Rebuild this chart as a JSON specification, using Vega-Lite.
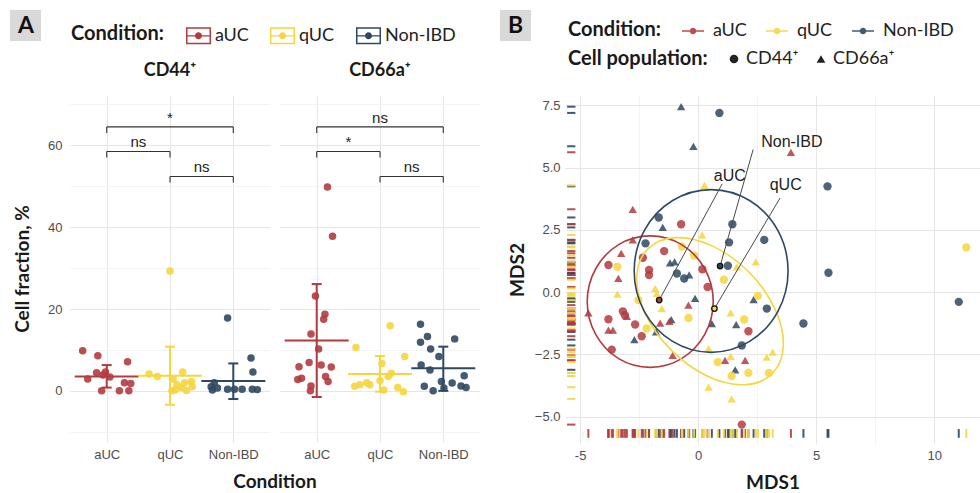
{
  "$schema": "https://vega.github.io/schema/vega-lite/v6.json",
  "padding": {"left": 10, "top": 10, "right": 0, "bottom": 2},
  "config": {
    "view": {"stroke": null},
    "axis": {"domain": false, "ticks": false, "labelFont": "Liberation Sans", "labelFontSize": 13, "labelColor": "#4d4d4d", "titleFont": "Lato", "titleFontSize": 19, "titleFontWeight": "bold", "titleColor": "#1a1a1a", "gridColor": "#ebebeb"},
    "legend": {"labelFont": "Lato", "labelFontSize": 18, "labelColor": "#222222", "titleFont": "Lato", "titleFontSize": 20, "titleFontWeight": "bold", "titleColor": "#1a1a1a", "padding": 0}
  },
  "datasets": {
    "A": [
      {"k": "pt", "pop": "CD44⁺", "cond": "aUC", "x": 0.62, "y": 9.8},
      {"k": "pt", "pop": "CD44⁺", "cond": "aUC", "x": 0.86, "y": 8.6},
      {"k": "pt", "pop": "CD44⁺", "cond": "aUC", "x": 1.33, "y": 7.1},
      {"k": "pt", "pop": "CD44⁺", "cond": "aUC", "x": 0.70, "y": 2.9},
      {"k": "pt", "pop": "CD44⁺", "cond": "aUC", "x": 0.84, "y": 4.4},
      {"k": "pt", "pop": "CD44⁺", "cond": "aUC", "x": 0.94, "y": 3.9},
      {"k": "pt", "pop": "CD44⁺", "cond": "aUC", "x": 0.98, "y": 4.6},
      {"k": "pt", "pop": "CD44⁺", "cond": "aUC", "x": 1.05, "y": 3.4},
      {"k": "pt", "pop": "CD44⁺", "cond": "aUC", "x": 0.92, "y": 0.0},
      {"k": "pt", "pop": "CD44⁺", "cond": "aUC", "x": 1.20, "y": 0.0},
      {"k": "pt", "pop": "CD44⁺", "cond": "aUC", "x": 1.35, "y": 0.0},
      {"k": "pt", "pop": "CD44⁺", "cond": "aUC", "x": 1.28, "y": 2.0},
      {"k": "pt", "pop": "CD44⁺", "cond": "aUC", "x": 1.38, "y": 1.8},
      {"k": "pt", "pop": "CD44⁺", "cond": "qUC", "x": 2.0, "y": 29.3},
      {"k": "pt", "pop": "CD44⁺", "cond": "qUC", "x": 1.67, "y": 4.1},
      {"k": "pt", "pop": "CD44⁺", "cond": "qUC", "x": 1.80, "y": 3.5},
      {"k": "pt", "pop": "CD44⁺", "cond": "qUC", "x": 2.20, "y": 4.6},
      {"k": "pt", "pop": "CD44⁺", "cond": "qUC", "x": 2.05, "y": 2.9},
      {"k": "pt", "pop": "CD44⁺", "cond": "qUC", "x": 2.11, "y": 1.5},
      {"k": "pt", "pop": "CD44⁺", "cond": "qUC", "x": 2.18, "y": 0.8},
      {"k": "pt", "pop": "CD44⁺", "cond": "qUC", "x": 2.08, "y": 0.2},
      {"k": "pt", "pop": "CD44⁺", "cond": "qUC", "x": 2.23, "y": 2.0},
      {"k": "pt", "pop": "CD44⁺", "cond": "qUC", "x": 2.34, "y": 2.3},
      {"k": "pt", "pop": "CD44⁺", "cond": "qUC", "x": 2.35, "y": 1.0},
      {"k": "pt", "pop": "CD44⁺", "cond": "qUC", "x": 2.03, "y": 0.0},
      {"k": "pt", "pop": "CD44⁺", "cond": "qUC", "x": 2.26, "y": 0.1},
      {"k": "pt", "pop": "CD44⁺", "cond": "Non-IBD", "x": 2.91, "y": 17.8},
      {"k": "pt", "pop": "CD44⁺", "cond": "Non-IBD", "x": 3.28, "y": 8.0},
      {"k": "pt", "pop": "CD44⁺", "cond": "Non-IBD", "x": 3.31, "y": 4.6},
      {"k": "pt", "pop": "CD44⁺", "cond": "Non-IBD", "x": 2.65, "y": 1.0},
      {"k": "pt", "pop": "CD44⁺", "cond": "Non-IBD", "x": 2.70, "y": 2.0},
      {"k": "pt", "pop": "CD44⁺", "cond": "Non-IBD", "x": 2.75, "y": 0.7},
      {"k": "pt", "pop": "CD44⁺", "cond": "Non-IBD", "x": 2.91, "y": 0.4},
      {"k": "pt", "pop": "CD44⁺", "cond": "Non-IBD", "x": 3.02, "y": 0.4},
      {"k": "pt", "pop": "CD44⁺", "cond": "Non-IBD", "x": 3.14, "y": 0.4},
      {"k": "pt", "pop": "CD44⁺", "cond": "Non-IBD", "x": 3.30, "y": 0.4},
      {"k": "pt", "pop": "CD44⁺", "cond": "Non-IBD", "x": 3.38, "y": 0.3},
      {"k": "pt", "pop": "CD44⁺", "cond": "Non-IBD", "x": 2.67, "y": 0.2},
      {"k": "pt", "pop": "CD66a⁺", "cond": "aUC", "x": 1.17, "y": 49.8},
      {"k": "pt", "pop": "CD66a⁺", "cond": "aUC", "x": 1.25, "y": 37.8},
      {"k": "pt", "pop": "CD66a⁺", "cond": "aUC", "x": 0.98, "y": 23.2},
      {"k": "pt", "pop": "CD66a⁺", "cond": "aUC", "x": 1.13, "y": 18.7},
      {"k": "pt", "pop": "CD66a⁺", "cond": "aUC", "x": 1.11, "y": 17.5},
      {"k": "pt", "pop": "CD66a⁺", "cond": "aUC", "x": 0.91, "y": 13.9},
      {"k": "pt", "pop": "CD66a⁺", "cond": "aUC", "x": 1.03, "y": 10.2},
      {"k": "pt", "pop": "CD66a⁺", "cond": "aUC", "x": 0.88, "y": 6.9},
      {"k": "pt", "pop": "CD66a⁺", "cond": "aUC", "x": 0.72, "y": 5.9},
      {"k": "pt", "pop": "CD66a⁺", "cond": "aUC", "x": 1.07, "y": 6.3},
      {"k": "pt", "pop": "CD66a⁺", "cond": "aUC", "x": 1.23, "y": 5.8},
      {"k": "pt", "pop": "CD66a⁺", "cond": "aUC", "x": 0.76, "y": 3.1},
      {"k": "pt", "pop": "CD66a⁺", "cond": "aUC", "x": 0.70, "y": 2.8},
      {"k": "pt", "pop": "CD66a⁺", "cond": "aUC", "x": 1.14, "y": 3.5},
      {"k": "pt", "pop": "CD66a⁺", "cond": "aUC", "x": 1.18, "y": 2.3},
      {"k": "pt", "pop": "CD66a⁺", "cond": "aUC", "x": 0.91, "y": 1.2},
      {"k": "pt", "pop": "CD66a⁺", "cond": "aUC", "x": 0.90, "y": 0.0},
      {"k": "pt", "pop": "CD66a⁺", "cond": "qUC", "x": 2.16, "y": 15.9},
      {"k": "pt", "pop": "CD66a⁺", "cond": "qUC", "x": 1.62, "y": 10.6},
      {"k": "pt", "pop": "CD66a⁺", "cond": "qUC", "x": 2.39, "y": 8.4},
      {"k": "pt", "pop": "CD66a⁺", "cond": "qUC", "x": 2.03, "y": 6.7},
      {"k": "pt", "pop": "CD66a⁺", "cond": "qUC", "x": 2.18, "y": 4.3},
      {"k": "pt", "pop": "CD66a⁺", "cond": "qUC", "x": 2.13, "y": 3.5},
      {"k": "pt", "pop": "CD66a⁺", "cond": "qUC", "x": 1.60, "y": 1.1},
      {"k": "pt", "pop": "CD66a⁺", "cond": "qUC", "x": 1.68, "y": 1.5},
      {"k": "pt", "pop": "CD66a⁺", "cond": "qUC", "x": 1.79, "y": 2.0},
      {"k": "pt", "pop": "CD66a⁺", "cond": "qUC", "x": 1.84, "y": 1.5},
      {"k": "pt", "pop": "CD66a⁺", "cond": "qUC", "x": 2.0, "y": 2.5},
      {"k": "pt", "pop": "CD66a⁺", "cond": "qUC", "x": 2.06, "y": 0.2},
      {"k": "pt", "pop": "CD66a⁺", "cond": "qUC", "x": 2.28, "y": 0.8},
      {"k": "pt", "pop": "CD66a⁺", "cond": "qUC", "x": 2.37, "y": -0.2},
      {"k": "pt", "pop": "CD66a⁺", "cond": "Non-IBD", "x": 2.64, "y": 16.3},
      {"k": "pt", "pop": "CD66a⁺", "cond": "Non-IBD", "x": 2.75, "y": 13.3},
      {"k": "pt", "pop": "CD66a⁺", "cond": "Non-IBD", "x": 3.18, "y": 12.7},
      {"k": "pt", "pop": "CD66a⁺", "cond": "Non-IBD", "x": 2.64, "y": 11.9},
      {"k": "pt", "pop": "CD66a⁺", "cond": "Non-IBD", "x": 2.80, "y": 10.2},
      {"k": "pt", "pop": "CD66a⁺", "cond": "Non-IBD", "x": 2.93, "y": 8.4},
      {"k": "pt", "pop": "CD66a⁺", "cond": "Non-IBD", "x": 2.65, "y": 6.3},
      {"k": "pt", "pop": "CD66a⁺", "cond": "Non-IBD", "x": 2.79, "y": 5.1},
      {"k": "pt", "pop": "CD66a⁺", "cond": "Non-IBD", "x": 2.97, "y": 2.3},
      {"k": "pt", "pop": "CD66a⁺", "cond": "Non-IBD", "x": 3.14, "y": 1.9},
      {"k": "pt", "pop": "CD66a⁺", "cond": "Non-IBD", "x": 3.33, "y": 3.7},
      {"k": "pt", "pop": "CD66a⁺", "cond": "Non-IBD", "x": 2.70, "y": 1.1},
      {"k": "pt", "pop": "CD66a⁺", "cond": "Non-IBD", "x": 2.84, "y": 0.0},
      {"k": "pt", "pop": "CD66a⁺", "cond": "Non-IBD", "x": 3.01, "y": 0.7},
      {"k": "pt", "pop": "CD66a⁺", "cond": "Non-IBD", "x": 3.28, "y": 1.2},
      {"k": "pt", "pop": "CD66a⁺", "cond": "Non-IBD", "x": 3.36, "y": 0.8},
      {"k": "st", "pop": "CD44⁺", "cond": "aUC", "x": 1, "m": 3.5, "lo": 0.8, "hi": 6.3},
      {"k": "st", "pop": "CD44⁺", "cond": "qUC", "x": 2, "m": 3.7, "lo": -3.4, "hi": 10.8},
      {"k": "st", "pop": "CD44⁺", "cond": "Non-IBD", "x": 3, "m": 2.4, "lo": -2.0, "hi": 6.7},
      {"k": "st", "pop": "CD66a⁺", "cond": "aUC", "x": 1, "m": 12.3, "lo": -1.5, "hi": 26.1},
      {"k": "st", "pop": "CD66a⁺", "cond": "qUC", "x": 2, "m": 4.1, "lo": -0.2, "hi": 8.5},
      {"k": "st", "pop": "CD66a⁺", "cond": "Non-IBD", "x": 3, "m": 5.5, "lo": 0.0, "hi": 10.8},
      {"k": "br", "pop": "CD44⁺", "x": 1, "xe": 3, "xm": 2, "y": 64.5, "yt": 63.0, "lab": "*"},
      {"k": "br", "pop": "CD44⁺", "x": 1, "xe": 2, "xm": 1.5, "y": 58.5, "yt": 57.0, "lab": "ns"},
      {"k": "br", "pop": "CD44⁺", "x": 2, "xe": 3, "xm": 2.5, "y": 52.4, "yt": 50.9, "lab": "ns"},
      {"k": "br", "pop": "CD66a⁺", "x": 1, "xe": 3, "xm": 2, "y": 64.5, "yt": 63.0, "lab": "ns"},
      {"k": "br", "pop": "CD66a⁺", "x": 1, "xe": 2, "xm": 1.5, "y": 58.5, "yt": 57.0, "lab": "*"},
      {"k": "br", "pop": "CD66a⁺", "x": 2, "xe": 3, "xm": 2.5, "y": 52.4, "yt": 50.9, "lab": "ns"},
      {"k": "lab", "pop": "CD44⁺", "lab": "A"}
    ],
    "P": [
      {"cond": "Non-IBD", "pop": "CD66a⁺", "x": -0.72, "y": 7.45},
      {"cond": "Non-IBD", "pop": "CD44⁺", "x": 0.90, "y": 7.20},
      {"cond": "Non-IBD", "pop": "CD66a⁺", "x": -0.20, "y": 5.86},
      {"cond": "Non-IBD", "pop": "CD44⁺", "x": -1.67, "y": 3.00},
      {"cond": "Non-IBD", "pop": "CD66a⁺", "x": -1.50, "y": 2.60},
      {"cond": "Non-IBD", "pop": "CD44⁺", "x": 1.45, "y": 2.73},
      {"cond": "Non-IBD", "pop": "CD44⁺", "x": -2.23, "y": 1.96},
      {"cond": "Non-IBD", "pop": "CD44⁺", "x": 1.31, "y": 2.00},
      {"cond": "Non-IBD", "pop": "CD66a⁺", "x": -1.19, "y": 1.18},
      {"cond": "Non-IBD", "pop": "CD66a⁺", "x": -1.00, "y": 1.22},
      {"cond": "Non-IBD", "pop": "CD44⁺", "x": -0.90, "y": 0.75},
      {"cond": "Non-IBD", "pop": "CD44⁺", "x": -0.59, "y": 0.55},
      {"cond": "Non-IBD", "pop": "CD66a⁺", "x": -0.38, "y": 0.69},
      {"cond": "Non-IBD", "pop": "CD44⁺", "x": 1.26, "y": 1.06},
      {"cond": "Non-IBD", "pop": "CD44⁺", "x": 2.80, "y": 2.10},
      {"cond": "Non-IBD", "pop": "CD44⁺", "x": 5.48, "y": 4.25},
      {"cond": "Non-IBD", "pop": "CD44⁺", "x": 5.52, "y": 0.78},
      {"cond": "Non-IBD", "pop": "CD44⁺", "x": 11.04, "y": -0.39},
      {"cond": "Non-IBD", "pop": "CD66a⁺", "x": 2.35, "y": -0.30},
      {"cond": "Non-IBD", "pop": "CD44⁺", "x": 2.91, "y": -0.66},
      {"cond": "Non-IBD", "pop": "CD44⁺", "x": 4.46, "y": -1.26},
      {"cond": "Non-IBD", "pop": "CD44⁺", "x": 1.85, "y": -2.14},
      {"cond": "Non-IBD", "pop": "CD66a⁺", "x": -0.13, "y": -0.25},
      {"cond": "Non-IBD", "pop": "CD66a⁺", "x": 0.58, "y": -1.26},
      {"cond": "Non-IBD", "pop": "CD66a⁺", "x": 1.61, "y": -1.30},
      {"cond": "Non-IBD", "pop": "CD66a⁺", "x": -2.70, "y": -1.91},
      {"cond": "Non-IBD", "pop": "CD66a⁺", "x": -1.78, "y": -1.60},
      {"cond": "Non-IBD", "pop": "CD66a⁺", "x": -1.14, "y": -1.10},
      {"cond": "Non-IBD", "pop": "CD66a⁺", "x": 1.57, "y": -3.12},
      {"cond": "aUC", "pop": "CD66a⁺", "x": 3.93, "y": 5.62},
      {"cond": "aUC", "pop": "CD66a⁺", "x": -2.77, "y": 3.33},
      {"cond": "aUC", "pop": "CD44⁺", "x": -0.72, "y": 2.73},
      {"cond": "aUC", "pop": "CD66a⁺", "x": -2.77, "y": 2.10},
      {"cond": "aUC", "pop": "CD44⁺", "x": -1.44, "y": 1.65},
      {"cond": "aUC", "pop": "CD66a⁺", "x": -3.26, "y": 1.56},
      {"cond": "aUC", "pop": "CD44⁺", "x": -2.34, "y": 1.38},
      {"cond": "aUC", "pop": "CD44⁺", "x": -3.80, "y": 1.09},
      {"cond": "aUC", "pop": "CD44⁺", "x": -2.08, "y": 0.89},
      {"cond": "aUC", "pop": "CD44⁺", "x": -2.08, "y": 0.69},
      {"cond": "aUC", "pop": "CD66a⁺", "x": -3.38, "y": 0.55},
      {"cond": "aUC", "pop": "CD44⁺", "x": 0.18, "y": 0.92},
      {"cond": "aUC", "pop": "CD44⁺", "x": 0.40, "y": 0.21},
      {"cond": "aUC", "pop": "CD66a⁺", "x": -4.65, "y": -0.83},
      {"cond": "aUC", "pop": "CD44⁺", "x": -3.19, "y": -0.77},
      {"cond": "aUC", "pop": "CD44⁺", "x": -3.10, "y": -0.93},
      {"cond": "aUC", "pop": "CD66a⁺", "x": -3.02, "y": -0.97},
      {"cond": "aUC", "pop": "CD44⁺", "x": -3.80, "y": -1.09},
      {"cond": "aUC", "pop": "CD44⁺", "x": -2.67, "y": -1.30},
      {"cond": "aUC", "pop": "CD66a⁺", "x": -3.80, "y": -1.53},
      {"cond": "aUC", "pop": "CD66a⁺", "x": -3.61, "y": -1.53},
      {"cond": "aUC", "pop": "CD44⁺", "x": -2.39, "y": -1.77},
      {"cond": "aUC", "pop": "CD66a⁺", "x": -1.61, "y": -1.24},
      {"cond": "aUC", "pop": "CD66a⁺", "x": -1.22, "y": -1.17},
      {"cond": "aUC", "pop": "CD66a⁺", "x": -0.41, "y": -0.52},
      {"cond": "aUC", "pop": "CD66a⁺", "x": -1.08, "y": -2.54},
      {"cond": "aUC", "pop": "CD44⁺", "x": -3.66, "y": -2.31},
      {"cond": "aUC", "pop": "CD44⁺", "x": 2.13, "y": -1.57},
      {"cond": "aUC", "pop": "CD66a⁺", "x": 1.14, "y": -2.74},
      {"cond": "aUC", "pop": "CD66a⁺", "x": 1.99, "y": -2.74},
      {"cond": "aUC", "pop": "CD44⁺", "x": 1.85, "y": -5.32},
      {"cond": "qUC", "pop": "CD66a⁺", "x": 0.27, "y": 4.29},
      {"cond": "qUC", "pop": "CD66a⁺", "x": 0.17, "y": 2.30},
      {"cond": "qUC", "pop": "CD44⁺", "x": -0.69, "y": 1.83},
      {"cond": "qUC", "pop": "CD44⁺", "x": -0.17, "y": 1.47},
      {"cond": "qUC", "pop": "CD44⁺", "x": -3.42, "y": 1.02},
      {"cond": "qUC", "pop": "CD66a⁺", "x": 2.44, "y": 1.22},
      {"cond": "qUC", "pop": "CD66a⁺", "x": 1.64, "y": 1.02},
      {"cond": "qUC", "pop": "CD44⁺", "x": 1.09, "y": 0.50},
      {"cond": "qUC", "pop": "CD44⁺", "x": 11.36, "y": 1.80},
      {"cond": "qUC", "pop": "CD44⁺", "x": 2.53, "y": -0.15},
      {"cond": "qUC", "pop": "CD66a⁺", "x": -3.42, "y": -0.08},
      {"cond": "qUC", "pop": "CD66a⁺", "x": -1.82, "y": 0.15},
      {"cond": "qUC", "pop": "CD66a⁺", "x": -1.75, "y": -0.05},
      {"cond": "qUC", "pop": "CD44⁺", "x": -2.53, "y": -0.32},
      {"cond": "qUC", "pop": "CD66a⁺", "x": -1.54, "y": -0.66},
      {"cond": "qUC", "pop": "CD44⁺", "x": -2.18, "y": -1.46},
      {"cond": "qUC", "pop": "CD44⁺", "x": -0.41, "y": -1.04},
      {"cond": "qUC", "pop": "CD66a⁺", "x": 1.38, "y": -0.83},
      {"cond": "qUC", "pop": "CD44⁺", "x": 1.95, "y": -1.10},
      {"cond": "qUC", "pop": "CD66a⁺", "x": 0.44, "y": -2.27},
      {"cond": "qUC", "pop": "CD66a⁺", "x": 2.91, "y": -2.61},
      {"cond": "qUC", "pop": "CD66a⁺", "x": 3.16, "y": -2.41},
      {"cond": "qUC", "pop": "CD44⁺", "x": 2.13, "y": -3.24},
      {"cond": "qUC", "pop": "CD44⁺", "x": 3.00, "y": -3.25},
      {"cond": "qUC", "pop": "CD44⁺", "x": 0.83, "y": -2.81},
      {"cond": "qUC", "pop": "CD66a⁺", "x": 1.38, "y": -2.58},
      {"cond": "qUC", "pop": "CD44⁺", "x": 1.42, "y": -3.37},
      {"cond": "qUC", "pop": "CD66a⁺", "x": 0.44, "y": -3.82},
      {"cond": "qUC", "pop": "CD66a⁺", "x": 1.42, "y": -4.29}
    ],
    "E": [
      {"cond": "aUC", "t": 0, "ex": 0.64, "ey": -0.38},
      {"cond": "aUC", "t": 1, "ex": 0.28, "ey": 0.94},
      {"cond": "aUC", "t": 2, "ex": -0.70, "ey": 1.91},
      {"cond": "aUC", "t": 3, "ex": -2.03, "ey": 2.26},
      {"cond": "aUC", "t": 4, "ex": -3.37, "ey": 1.91},
      {"cond": "aUC", "t": 5, "ex": -4.34, "ey": 0.94},
      {"cond": "aUC", "t": 6, "ex": -4.70, "ey": -0.38},
      {"cond": "aUC", "t": 7, "ex": -4.34, "ey": -1.70},
      {"cond": "aUC", "t": 8, "ex": -3.37, "ey": -2.67},
      {"cond": "aUC", "t": 9, "ex": -2.03, "ey": -3.02},
      {"cond": "aUC", "t": 10, "ex": -0.70, "ey": -2.67},
      {"cond": "aUC", "t": 11, "ex": 0.28, "ey": -1.70},
      {"cond": "qUC", "t": 0, "ex": 3.14, "ey": -3.27},
      {"cond": "qUC", "t": 1, "ex": 3.61, "ey": -2.15},
      {"cond": "qUC", "t": 2, "ex": 3.25, "ey": -0.67},
      {"cond": "qUC", "t": 3, "ex": 2.16, "ey": 0.80},
      {"cond": "qUC", "t": 4, "ex": 0.61, "ey": 1.85},
      {"cond": "qUC", "t": 5, "ex": -0.95, "ey": 2.19},
      {"cond": "qUC", "t": 6, "ex": -2.13, "ey": 1.74},
      {"cond": "qUC", "t": 7, "ex": -2.60, "ey": 0.62},
      {"cond": "qUC", "t": 8, "ex": -2.24, "ey": -0.87},
      {"cond": "qUC", "t": 9, "ex": -1.14, "ey": -2.33},
      {"cond": "qUC", "t": 10, "ex": 0.40, "ey": -3.38},
      {"cond": "qUC", "t": 11, "ex": 1.97, "ey": -3.72},
      {"cond": "Non-IBD", "t": 0, "ex": 3.81, "ey": 0.85},
      {"cond": "Non-IBD", "t": 1, "ex": 3.37, "ey": 2.49},
      {"cond": "Non-IBD", "t": 2, "ex": 2.18, "ey": 3.68},
      {"cond": "Non-IBD", "t": 3, "ex": 0.55, "ey": 4.12},
      {"cond": "Non-IBD", "t": 4, "ex": -1.08, "ey": 3.68},
      {"cond": "Non-IBD", "t": 5, "ex": -2.27, "ey": 2.49},
      {"cond": "Non-IBD", "t": 6, "ex": -2.71, "ey": 0.85},
      {"cond": "Non-IBD", "t": 7, "ex": -2.27, "ey": -0.79},
      {"cond": "Non-IBD", "t": 8, "ex": -1.08, "ey": -1.98},
      {"cond": "Non-IBD", "t": 9, "ex": 0.55, "ey": -2.42},
      {"cond": "Non-IBD", "t": 10, "ex": 2.18, "ey": -1.98},
      {"cond": "Non-IBD", "t": 11, "ex": 3.37, "ey": -0.79}
    ],
    "L": [
      {"cond": "aUC", "tx": 1.34, "ty": 4.68, "lx": 1.02, "ly": 4.35, "cx": -1.65, "cy": -0.32},
      {"cond": "qUC", "tx": 3.71, "ty": 4.31, "lx": 3.47, "ly": 3.78, "cx": 0.69, "cy": -0.66},
      {"cond": "Non-IBD", "tx": 3.97, "ty": 6.03, "lx": 2.33, "ly": 5.73, "cx": 0.93, "cy": 1.05}
    ],
    "BL": [{"lab": "B"}]
  },
  "hconcat": [
    {
      "data": {"name": "A"},
      "facet": {
        "column": {
          "field": "pop", "type": "nominal", "sort": ["CD44⁺", "CD66a⁺"],
          "header": {
            "title": "Condition", "titleOrient": "bottom", "labelOrient": "top",
            "labelFont": "Lato", "labelFontSize": 18, "labelFontWeight": "bold", "labelColor": "#1a1a1a", "labelPadding": 15,
            "titleFont": "Lato", "titleFontSize": 19, "titleFontWeight": "bold", "titleColor": "#1a1a1a", "titlePadding": 2
          }
        }
      },
      "spacing": 10,
      "spec": {
        "width": 200,
        "height": 347,
        "layer": [
          {
            "transform": [{"filter": "datum.k === 'pt'"}],
            "mark": {"type": "point", "filled": true, "size": 56, "opacity": 0.9},
            "encoding": {
              "x": {"field": "x", "type": "quantitative", "title": null, "scale": {"domain": [0.42, 3.58], "nice": false, "zero": false},
                    "axis": {"values": [1, 2, 3], "labelExpr": "datum.value === 1 ? 'aUC' : datum.value === 2 ? 'qUC' : 'Non-IBD'", "labelPadding": 6, "grid": true, "gridColor": "#e6e6e6"}},
              "y": {"field": "y", "type": "quantitative", "title": "Cell fraction, %", "scale": {"domain": [-12.5, 72.3], "nice": false, "zero": false},
                    "axis": {"values": [-10, 0, 10, 20, 30, 40, 50, 60, 70], "labelExpr": "datum.value % 20 === 0 ? datum.label : ''",
                             "gridColor": {"condition": {"test": "datum.value % 20 === 0", "value": "#e6e6e6"}, "value": "#f3f3f3"}, "labelPadding": 8, "titlePadding": 15}},
              "color": {"field": "cond", "type": "nominal",
                        "scale": {"domain": ["aUC", "qUC", "Non-IBD"], "range": ["#b23b3f", "#f4d63e", "#2f4861"]},
                        "legend": {"title": "Condition:", "orient": "none", "legendX": 1, "legendY": -72, "direction": "horizontal",
                                   "titleOrient": "left", "titlePadding": 21, "titleAnchor": "middle", "titleBaseline": "middle",
                                   "symbolType": "M-1,-0.68H1V0.68H-1Z M-0.88,-0.56V0.56H0.88V-0.56Z M-0.88,-0.05H0.88V0.05H-0.88Z M0.28,0C0.28,0.155 0.155,0.28 0,0.28C-0.155,0.28 -0.28,0.155 -0.28,0C-0.28,-0.155 -0.155,-0.28 0,-0.28C0.155,-0.28 0.28,-0.155 0.28,0Z",
                                   "symbolSize": 625, "symbolStrokeWidth": 0, "symbolOpacity": 1, "labelOffset": 4, "columnPadding": 21}}
            }
          },
          {
            "transform": [{"filter": "datum.k === 'st'"}],
            "mark": {"type": "rule", "strokeWidth": 2},
            "encoding": {
              "x": {"field": "x", "type": "quantitative", "title": null},
              "y": {"field": "lo", "type": "quantitative", "title": "Cell fraction, %"},
              "y2": {"field": "hi"},
              "color": {"field": "cond", "type": "nominal"}
            }
          },
          {
            "transform": [{"filter": "datum.k === 'st'"}],
            "mark": {"type": "tick", "orient": "horizontal", "size": 10, "thickness": 2, "opacity": 1},
            "encoding": {
              "x": {"field": "x", "type": "quantitative", "title": null},
              "y": {"field": "lo", "type": "quantitative", "title": "Cell fraction, %"},
              "color": {"field": "cond", "type": "nominal"}
            }
          },
          {
            "transform": [{"filter": "datum.k === 'st'"}],
            "mark": {"type": "tick", "orient": "horizontal", "size": 10, "thickness": 2, "opacity": 1},
            "encoding": {
              "x": {"field": "x", "type": "quantitative", "title": null},
              "y": {"field": "hi", "type": "quantitative", "title": "Cell fraction, %"},
              "color": {"field": "cond", "type": "nominal"}
            }
          },
          {
            "transform": [{"filter": "datum.k === 'st'"}],
            "mark": {"type": "tick", "orient": "horizontal", "size": 64, "thickness": 2, "opacity": 1},
            "encoding": {
              "x": {"field": "x", "type": "quantitative", "title": null},
              "y": {"field": "m", "type": "quantitative", "title": "Cell fraction, %"},
              "color": {"field": "cond", "type": "nominal"}
            }
          },
          {
            "transform": [{"filter": "datum.k === 'br'"}],
            "mark": {"type": "rule", "color": "#333333", "strokeWidth": 1.1},
            "encoding": {
              "x": {"field": "x", "type": "quantitative", "title": null},
              "x2": {"field": "xe"},
              "y": {"field": "y", "type": "quantitative", "title": "Cell fraction, %"}
            }
          },
          {
            "transform": [{"filter": "datum.k === 'br'"}],
            "mark": {"type": "rule", "color": "#333333", "strokeWidth": 1.1},
            "encoding": {
              "x": {"field": "x", "type": "quantitative", "title": null},
              "y": {"field": "y", "type": "quantitative", "title": "Cell fraction, %"},
              "y2": {"field": "yt"}
            }
          },
          {
            "transform": [{"filter": "datum.k === 'br'"}],
            "mark": {"type": "rule", "color": "#333333", "strokeWidth": 1.1},
            "encoding": {
              "x": {"field": "xe", "type": "quantitative", "title": null},
              "y": {"field": "y", "type": "quantitative", "title": "Cell fraction, %"},
              "y2": {"field": "yt"}
            }
          },
          {
            "transform": [{"filter": "datum.k === 'br'"}],
            "mark": {"type": "text", "baseline": "bottom", "dy": -1, "font": "Liberation Sans", "fontSize": 15, "color": "#222222"},
            "encoding": {
              "x": {"field": "xm", "type": "quantitative", "title": null},
              "y": {"field": "y", "type": "quantitative", "title": "Cell fraction, %"},
              "text": {"field": "lab"}
            }
          },
          {
            "transform": [{"filter": "datum.k === 'lab'"}],
            "mark": {"type": "text", "text": ""},
            "encoding": {
              "fill": {"field": "lab", "type": "nominal", "scale": {"range": ["#d9d9d9"]},
                       "legend": {"title": null, "orient": "none", "legendX": -60, "legendY": -85,
                                  "labelFont": "Lato", "labelFontSize": 23, "labelFontWeight": "bold", "labelColor": "#111111",
                                  "symbolType": "square", "symbolSize": 961, "symbolOpacity": 1, "symbolStrokeWidth": 0, "labelOffset": -23}}
            }
          }
        ]
      }
    },
    {
      "width": 415,
      "height": 349,
      "layer": [
        {
          "data": {"name": "P"},
          "mark": {"type": "point", "filled": true, "size": 70, "opacity": 0.85},
          "encoding": {
            "x": {"field": "x", "type": "quantitative", "title": "MDS1", "scale": {"domain": [-5.64, 11.94], "nice": false, "zero": false},
                  "axis": {"values": [-5, -2.5, 0, 2.5, 5, 7.5, 10], "labelExpr": "datum.value % 5 === 0 ? '' + datum.value : ''",
                           "gridColor": {"condition": {"test": "datum.value % 5 === 0", "value": "#e6e6e6"}, "value": "#f3f3f3"}, "labelPadding": 5, "titlePadding": 11}},
            "y": {"field": "y", "type": "quantitative", "title": "MDS2", "scale": {"domain": [-6.1, 7.92], "nice": false, "zero": false},
                  "axis": {"values": [-5, -3.75, -2.5, -1.25, 0, 1.25, 2.5, 3.75, 5, 6.25, 7.5],
                           "labelExpr": "datum.value % 2.5 === 0 ? format(datum.value, '.1f') : ''",
                           "gridColor": {"condition": {"test": "datum.value % 2.5 === 0", "value": "#e6e6e6"}, "value": "#f3f3f3"}, "labelPadding": 5, "titlePadding": 7}},
            "color": {"field": "cond", "type": "nominal",
                      "scale": {"domain": ["aUC", "qUC", "Non-IBD"], "range": ["#b23b3f", "#f4d63e", "#2f4861"]},
                      "legend": {"title": "Condition:", "orient": "none", "legendX": 3, "legendY": -75, "direction": "horizontal",
                                 "titleOrient": "left", "titlePadding": 20, "titleAnchor": "middle", "titleBaseline": "middle",
                                 "symbolType": "M-1,-0.07H1V0.07H-1Z M0.3,0C0.3,0.166 0.166,0.3 0,0.3C-0.166,0.3 -0.3,0.166 -0.3,0C-0.3,-0.166 -0.166,-0.3 0,-0.3C0.166,-0.3 0.3,-0.166 0.3,0Z",
                                 "symbolSize": 484, "symbolStrokeWidth": 0, "symbolOpacity": 1, "labelOffset": 9, "columnPadding": 19}},
            "shape": {"field": "pop", "type": "nominal",
                      "scale": {"domain": ["CD44⁺", "CD66a⁺"], "range": ["circle", "triangle-up"]},
                      "legend": {"title": "Cell population:", "orient": "none", "legendX": 3, "legendY": -45, "direction": "horizontal",
                                 "titleOrient": "left", "titlePadding": 17, "titleAnchor": "middle", "titleBaseline": "middle",
                                 "symbolSize": 75, "symbolFillColor": "#222222", "symbolStrokeColor": "#222222", "symbolStrokeWidth": 0, "symbolOpacity": 1,
                                 "labelOffset": 3, "columnPadding": 13}}
          }
        },
        {
          "data": {"name": "P"},
          "mark": {"type": "rule", "strokeWidth": 2, "opacity": 0.9},
          "encoding": {
            "y": {"field": "y", "type": "quantitative", "title": "MDS2"},
            "x": {"datum": -5.55},
            "x2": {"datum": -5.2},
            "color": {"field": "cond", "type": "nominal"}
          }
        },
        {
          "data": {"name": "P"},
          "mark": {"type": "rule", "strokeWidth": 2, "opacity": 0.9},
          "encoding": {
            "x": {"field": "x", "type": "quantitative", "title": "MDS1"},
            "y": {"datum": -5.5},
            "y2": {"datum": -5.85},
            "color": {"field": "cond", "type": "nominal"}
          }
        },
        {
          "data": {"name": "E"},
          "mark": {"type": "line", "interpolate": "cardinal-closed", "strokeWidth": 1.6},
          "encoding": {
            "x": {"field": "ex", "type": "quantitative", "title": "MDS1"},
            "y": {"field": "ey", "type": "quantitative", "title": "MDS2"},
            "order": {"field": "t", "type": "quantitative"},
            "color": {"field": "cond", "type": "nominal"}
          }
        },
        {
          "data": {"name": "L"},
          "mark": {"type": "rule", "color": "#4a4a4a", "strokeWidth": 1},
          "encoding": {
            "x": {"field": "lx", "type": "quantitative", "title": "MDS1"},
            "y": {"field": "ly", "type": "quantitative", "title": "MDS2"},
            "x2": {"field": "cx"},
            "y2": {"field": "cy"}
          }
        },
        {
          "data": {"name": "L"},
          "mark": {"type": "point", "filled": true, "size": 30, "opacity": 1, "stroke": "#111111", "strokeWidth": 1.3},
          "encoding": {
            "x": {"field": "cx", "type": "quantitative", "title": "MDS1"},
            "y": {"field": "cy", "type": "quantitative", "title": "MDS2"},
            "color": {"field": "cond", "type": "nominal"}
          }
        },
        {
          "data": {"name": "L"},
          "mark": {"type": "text", "font": "Liberation Sans", "fontSize": 16, "color": "#222222"},
          "encoding": {
            "x": {"field": "tx", "type": "quantitative", "title": "MDS1"},
            "y": {"field": "ty", "type": "quantitative", "title": "MDS2"},
            "text": {"field": "cond"}
          }
        },
        {
          "data": {"name": "BL"},
          "mark": {"type": "text", "text": ""},
          "encoding": {
            "fill": {"field": "lab", "type": "nominal", "scale": {"range": ["#d9d9d9"]},
                     "legend": {"title": null, "orient": "none", "legendX": -65, "legendY": -85,
                                "labelFont": "Lato", "labelFontSize": 23, "labelFontWeight": "bold", "labelColor": "#111111",
                                "symbolType": "square", "symbolSize": 961, "symbolOpacity": 1, "symbolStrokeWidth": 0, "labelOffset": -23}}
          }
        }
      ]
    }
  ],
  "spacing": 20,
  "resolve": {"scale": {"color": "independent", "fill": "independent", "shape": "independent"}}
}
